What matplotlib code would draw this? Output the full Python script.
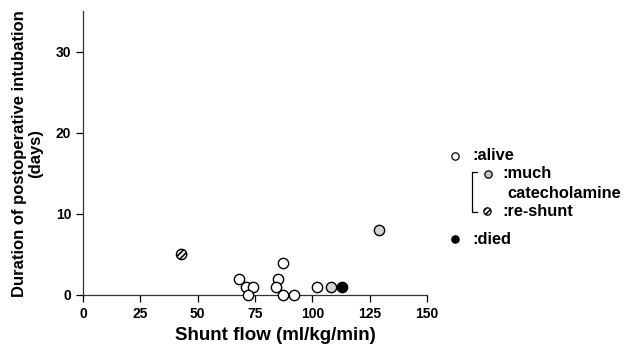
import matplotlib
matplotlib.use("Agg")
import matplotlib.pyplot as plt
from matplotlib.lines import Line2D

plt.rcParams['font.family'] = ['Liberation Sans', 'DejaVu Sans']
plt.rcParams['font.weight'] = 'bold'
plt.rcParams['hatch.linewidth'] = 1.2

# alive patients
alive_x = [68, 71, 74, 72, 87, 85, 84, 87, 92, 102]
alive_y = [2, 1, 1, 0, 4, 2, 1, 0, 0, 1]
# alive, much catecholamine
cat_x = [108, 129]
cat_y = [1, 8]
# alive, re-shunt
reshunt_x = [43]
reshunt_y = [5]
# died
died_x = [113]
died_y = [1]

x_ticks = [0, 25, 50, 75, 100, 125, 150]
y_ticks = [0, 10, 20, 30]

fig = plt.figure(figsize=(6.26, 3.47), dpi=100)
ax = fig.add_axes([0.1326, 0.15, 0.5495, 0.817])

ms = 55
ax.scatter(alive_x, alive_y, s=ms, facecolor='white', edgecolor='black', linewidth=1.0, clip_on=False, zorder=3)
ax.scatter(cat_x, cat_y, s=ms, facecolor='#d4d4d4', edgecolor='black', linewidth=1.0, clip_on=False, zorder=3)
ax.scatter(reshunt_x, reshunt_y, s=ms, facecolor='white', edgecolor='black', hatch='//////', linewidth=1.0, clip_on=False, zorder=3)
ax.scatter(died_x, died_y, s=ms, facecolor='black', edgecolor='black', linewidth=1.0, clip_on=False, zorder=3)

ax.set_xlim(0, 150)
ax.set_ylim(0, 35)
ax.set_xticks(x_ticks)
ax.set_yticks(y_ticks)
ax.spines['top'].set_visible(False)
ax.spines['right'].set_visible(False)
for s in ['left', 'bottom']:
    ax.spines[s].set_linewidth(0.9)
    ax.spines[s].set_color('#333333')
ax.tick_params(direction='out', length=5, width=0.9, labelsize=10, colors='black')
for lab in ax.get_xticklabels() + ax.get_yticklabels():
    lab.set_fontweight('bold')

ax.set_xlabel('Shunt flow (ml/kg/min)', fontsize=13.5, fontweight='bold')
ax.xaxis.set_label_coords(0.558, -0.112)
ax.set_ylabel('Duration of postoperative intubation\n(days)', fontsize=12.0, fontweight='bold',
              labelpad=9, linespacing=1.1)

# hand-made legend
def fx(px):
    return px / 626.0

def fy(py):
    return 1 - py / 347.0

lms = 28
kw = dict(s=lms, transform=fig.transFigure, clip_on=False, edgecolor='black', linewidth=0.9)
ax.scatter([fx(455)], [fy(156)], facecolor='white', **kw)
ax.scatter([fx(487.5)], [fy(174)], facecolor='#c8c8c8', **kw)
ax.scatter([fx(487.5)], [fy(211.5)], facecolor='white', hatch='//////', **kw)
ax.scatter([fx(455)], [fy(239)], facecolor='black', **kw)
fig.add_artist(Line2D([fx(477), fx(471.5), fx(471.5), fx(477)], [fy(172), fy(172), fy(212), fy(212)],
                      color='black', linewidth=0.9))

tk = dict(fontsize=11.8, fontweight='bold', va='center', ha='left')
fig.text(fx(472), fy(156), ':alive', **tk)
fig.text(fx(502), fy(174), ':much', **tk)
fig.text(fx(507), fy(193), 'catecholamine', **tk)
fig.text(fx(502), fy(212), ':re-shunt', **tk)
fig.text(fx(472), fy(239), ':died', **tk)

fig.savefig('out.png', dpi=100)
